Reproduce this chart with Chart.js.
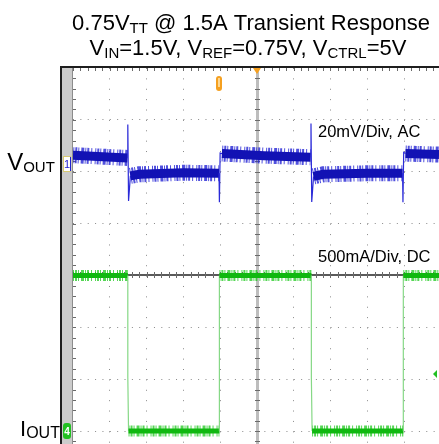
<!DOCTYPE html>
<html lang="en">
<head>
<meta charset="UTF-8">
<title>0.75VTT @ 1.5A Transient Response</title>
<script src="https://cdn.jsdelivr.net/npm/chart.js@4.4.1/dist/chart.umd.min.js"></script>
<style>
	html, body { margin: 0; padding: 0; background: #fff; overflow: hidden; }
	canvas { display: block; }
</style>
</head>
<body>
	<canvas id="scope" width="439" height="444"></canvas>

	<script>
		// time axis in screen divisions (10 div across), trigger on the load step at -1 div
		var xDivs = [-5, -4, -3, -2, -1, 0, 1, 2, 3, 4];
		var yDivs = [-3, -2, -1, 0, 1, 2, 3, 4];

		// CH1 : VOUT, AC coupled, 20mV/div
		var vTime = [-5, -3.52, -3.51, -3.49, -3.44, -3.2, -2.0, -1.03, -1.02, -1.0, -0.95, 0.2, 1.46, 1.47, 1.49, 1.54, 1.8, 3.0, 3.96, 3.97, 3.99, 4.04, 4.95];
		var vOut_mV = [3.4, 2.3, 15.2, -14.3, -4.6, -4.0, -3.4, -3.6, -14.8, 4.2, 4.0, 3.2, 2.6, 15.6, -14.7, -4.8, -4.0, -3.6, -3.6, -14.8, 4.5, 4.0, 3.6];
		var ch1Offset = 2.15, ch1Scale = 20;

		// CH4 : IOUT, DC coupled, 500mA/div
		var iTime = [-5, -3.51, -3.51, -3.49, -1.02, -1.02, 1.48, 1.48, 1.50, 3.98, 3.98, 4.95];
		var iOut_A = [1.5, 1.5, 0.52, 0, 0, 1.5, 1.5, 0.52, 0, 0, 1.5, 1.5];
		var ch4Offset = -3, ch4Scale = 0.5;

		var trigTime = -1.02, trigLevel_A = 0.55;

		function toDiv(xs, ys, off, sc) {
			var pts = [];
			for (var i = 0; i < xs.length; ++i) {
				pts.push({ x : xs[i], y : off + ys[i] / sc });
			}
			return pts;
		}

		// flat parts of a trace get a wide noisy band, the edges stay thin
		function flat(ctx) {
			return Math.abs(ctx.p1.x - ctx.p0.x) > 5;
		}

		function trace(pts, core, fringe, edge, wCore, wFringe, order) {
			return [ {
				data : pts,
				order : order,
				pointRadius : 0,
				borderCapStyle : 'butt',
				borderColor : core,
				borderWidth : wCore,
				segment : {
					borderWidth : function(ctx) { return flat(ctx) ? wCore : 1.2; },
					borderColor : function(ctx) { return flat(ctx) ? core : edge; }
				}
			}, {
				data : pts,
				order : order + 1,
				pointRadius : 0,
				borderCapStyle : 'butt',
				borderColor : fringe,
				borderWidth : wFringe,
				borderDash : [1, 1, 2, 1, 1, 2, 3, 1, 1, 1, 2, 2, 1, 3],
				segment : {
					borderColor : function(ctx) { return flat(ctx) ? fringe : 'rgba(0,0,0,0)'; }
				}
			} ];
		}

		function drawRich(ctx, parts, x, y) {
			var w = 0, i;
			for (i = 0; i < parts.length; ++i) {
				ctx.font = parts[i][1] + 'px "Liberation Sans", Arial, sans-serif';
				w += ctx.measureText(parts[i][0]).width;
			}
			var cx = x - w / 2;
			ctx.textAlign = 'left';
			ctx.textBaseline = 'alphabetic';
			for (i = 0; i < parts.length; ++i) {
				ctx.font = parts[i][1] + 'px "Liberation Sans", Arial, sans-serif';
				ctx.fillText(parts[i][0], cx, y + parts[i][2]);
				cx += ctx.measureText(parts[i][0]).width;
			}
		}

		var scopePlugin = {
			id : 'scope',
			beforeDatasetsDraw : function(chart) {
				var ctx = chart.ctx, a = chart.chartArea;
				var sx = chart.scales.x, sy = chart.scales.y;
				var x0 = Math.round(sx.getPixelForValue(0)), y0 = Math.round(sy.getPixelForValue(0));
				var v, p;
				ctx.save();
				// centre crosshair
				ctx.fillStyle = '#bdbdbd';
				ctx.fillRect(x0 - 1, a.top, 3, a.bottom - a.top);
				ctx.fillStyle = '#5a5a5a';
				ctx.fillRect(a.left, y0 - 1, a.right - a.left, 2);
				ctx.fillStyle = '#6a6a6a';
				for (v = -3.4; v <= 4; v += 0.2) {
					p = Math.round(sy.getPixelForValue(v));
					ctx.fillRect(x0 - 2, p, 5, 1);
					ctx.fillRect(a.left, p, 3, 1);
				}
				for (v = -5; v <= 5; v += 0.2) {
					p = Math.round(sx.getPixelForValue(v));
					ctx.fillRect(p, y0 - 3, 1, 6);
					ctx.fillRect(p, a.top, 1, 3);
				}
				ctx.restore();
			},
			afterDraw : function(chart) {
				var ctx = chart.ctx, a = chart.chartArea;
				var sx = chart.scales.x, sy = chart.scales.y;
				var p;
				ctx.save();
				// frame and left strip
				ctx.fillStyle = '#cbcbcb';
				ctx.fillRect(a.left - 11, a.top, 11, a.bottom - a.top);
				ctx.fillStyle = '#8c8c8c';
				ctx.fillRect(a.left - 1, a.top, 1, a.bottom - a.top);
				ctx.fillStyle = '#1e1e1e';
				ctx.fillRect(a.left - 12, a.top - 2, a.right - a.left + 12, 2);
				ctx.fillRect(a.left - 13, a.top - 2, 2, a.bottom - a.top + 2);

				// channel ground markers
				p = Math.round(sy.getPixelForValue(ch1Offset));
				ctx.fillStyle = '#ffffff';
				ctx.strokeStyle = '#d6c870';
				ctx.lineWidth = 1;
				ctx.fillRect(a.left - 10, p - 8, 7, 16);
				ctx.strokeRect(a.left - 9.5, p - 7.5, 7, 15);
				ctx.fillStyle = '#2020d0';
				ctx.fillRect(a.left - 3, p - 7, 1, 14);
				ctx.font = '11px "Liberation Sans", Arial, sans-serif';
				ctx.textAlign = 'center';
				ctx.textBaseline = 'middle';
				ctx.fillText('1', a.left - 6, p + 1);

				p = Math.round(sy.getPixelForValue(ch4Offset));
				ctx.fillStyle = '#22c022';
				ctx.beginPath();
				ctx.roundRect(a.left - 10, p - 8, 8, 16, 3);
				ctx.fill();
				ctx.fillStyle = '#ffffff';
				ctx.font = 'bold 10px "Liberation Sans", Arial, sans-serif';
				ctx.fillText('4', a.left - 6, p + 1);

				// horizontal position and trigger markers
				p = Math.round(sx.getPixelForValue(0));
				ctx.fillStyle = '#f5a020';
				ctx.beginPath();
				ctx.moveTo(p - 4, a.top);
				ctx.lineTo(p + 4, a.top);
				ctx.lineTo(p, a.top + 6);
				ctx.closePath();
				ctx.fill();
				p = Math.round(sx.getPixelForValue(trigTime));
				ctx.beginPath();
				ctx.roundRect(p - 3, a.top + 8, 6, 15, 3);
				ctx.fill();
				ctx.fillStyle = '#fcd690';
				ctx.fillRect(p - 1, a.top + 10, 2, 9);

				p = sy.getPixelForValue(ch4Offset + trigLevel_A / ch4Scale);
				ctx.fillStyle = '#22c022';
				ctx.beginPath();
				ctx.moveTo(a.right - 6, p);
				ctx.lineTo(a.right - 2, p - 4);
				ctx.lineTo(a.right - 2, p + 4);
				ctx.closePath();
				ctx.fill();

				// texts
				ctx.fillStyle = '#000000';
				drawRich(ctx, [ [ '0.75V', 22, 0 ], [ 'TT', 15, 3 ], [ ' @ 1.5A Transient Response', 22, 0 ] ], 251, 30);
				drawRich(ctx, [ [ 'V', 22, 0 ], [ 'IN', 15, 3 ], [ '=1.5V, V', 22, 0 ], [ 'REF', 15, 3 ],
						[ '=0.75V, V', 22, 0 ], [ 'CTRL', 15, 3 ], [ '=5V', 22, 0 ] ], 248, 55);
				drawRich(ctx, [ [ 'V', 24, 0 ], [ 'OUT', 15, 2 ] ], 31, 170);
				drawRich(ctx, [ [ 'I', 22, 0 ], [ 'OUT', 16, 2 ] ], 40, 436);
				ctx.font = '16.5px "Liberation Sans", Arial, sans-serif';
				ctx.textAlign = 'left';
				ctx.fillText('20mV/Div, AC', 318, 137);
				ctx.fillText('500mA/Div, DC', 318, 262);
				ctx.restore();
			}
		};

		var datasets = trace(toDiv(vTime, vOut_mV, ch1Offset, ch1Scale),
				'#1212b4', 'rgba(36,36,212,0.8)', '#2a2ad8', 9, 16, 1)
			.concat(trace(toDiv(iTime, iOut_A, ch4Offset, ch4Scale),
				'#10b810', 'rgba(30,200,30,0.75)', '#86d886', 5, 11, 3));

		var gridColor = function(ctx) {
			var v = ctx.tick ? ctx.tick.value : 0;
			return (v === 0 || v === -5 || v === 4 && ctx.scale.axis === 'y') ? 'rgba(0,0,0,0)' : '#8a8a8a';
		};

		var chart = new Chart(document.getElementById('scope'), {
			type : 'line',
			data : { datasets : datasets },
			options : {
				responsive : false,
				animation : false,
				devicePixelRatio : 1,
				layout : { padding : { left : 73, top : 68, right : 0, bottom : 0 } },
				plugins : {
					legend : { display : false },
					tooltip : { enabled : false }
				},
				scales : {
					x : {
						type : 'linear',
						min : -5,
						max : 4.95,
						afterBuildTicks : function(s) { s.ticks = xDivs.map(function(v) { return { value : v }; }); },
						ticks : { display : false },
						grid : { color : gridColor, lineWidth : 1, drawTicks : false },
						border : { display : false, dash : [ 1, 9.38 ] }
					},
					y : {
						type : 'linear',
						min : -3.25,
						max : 4,
						afterBuildTicks : function(s) { s.ticks = yDivs.map(function(v) { return { value : v }; }); },
						ticks : { display : false },
						grid : { color : gridColor, lineWidth : 1, drawTicks : false },
						border : { display : false, dash : [ 1, 6.36 ] }
					}
				}
			},
			plugins : [ scopePlugin ]
		});
	</script>
</body>
</html>
